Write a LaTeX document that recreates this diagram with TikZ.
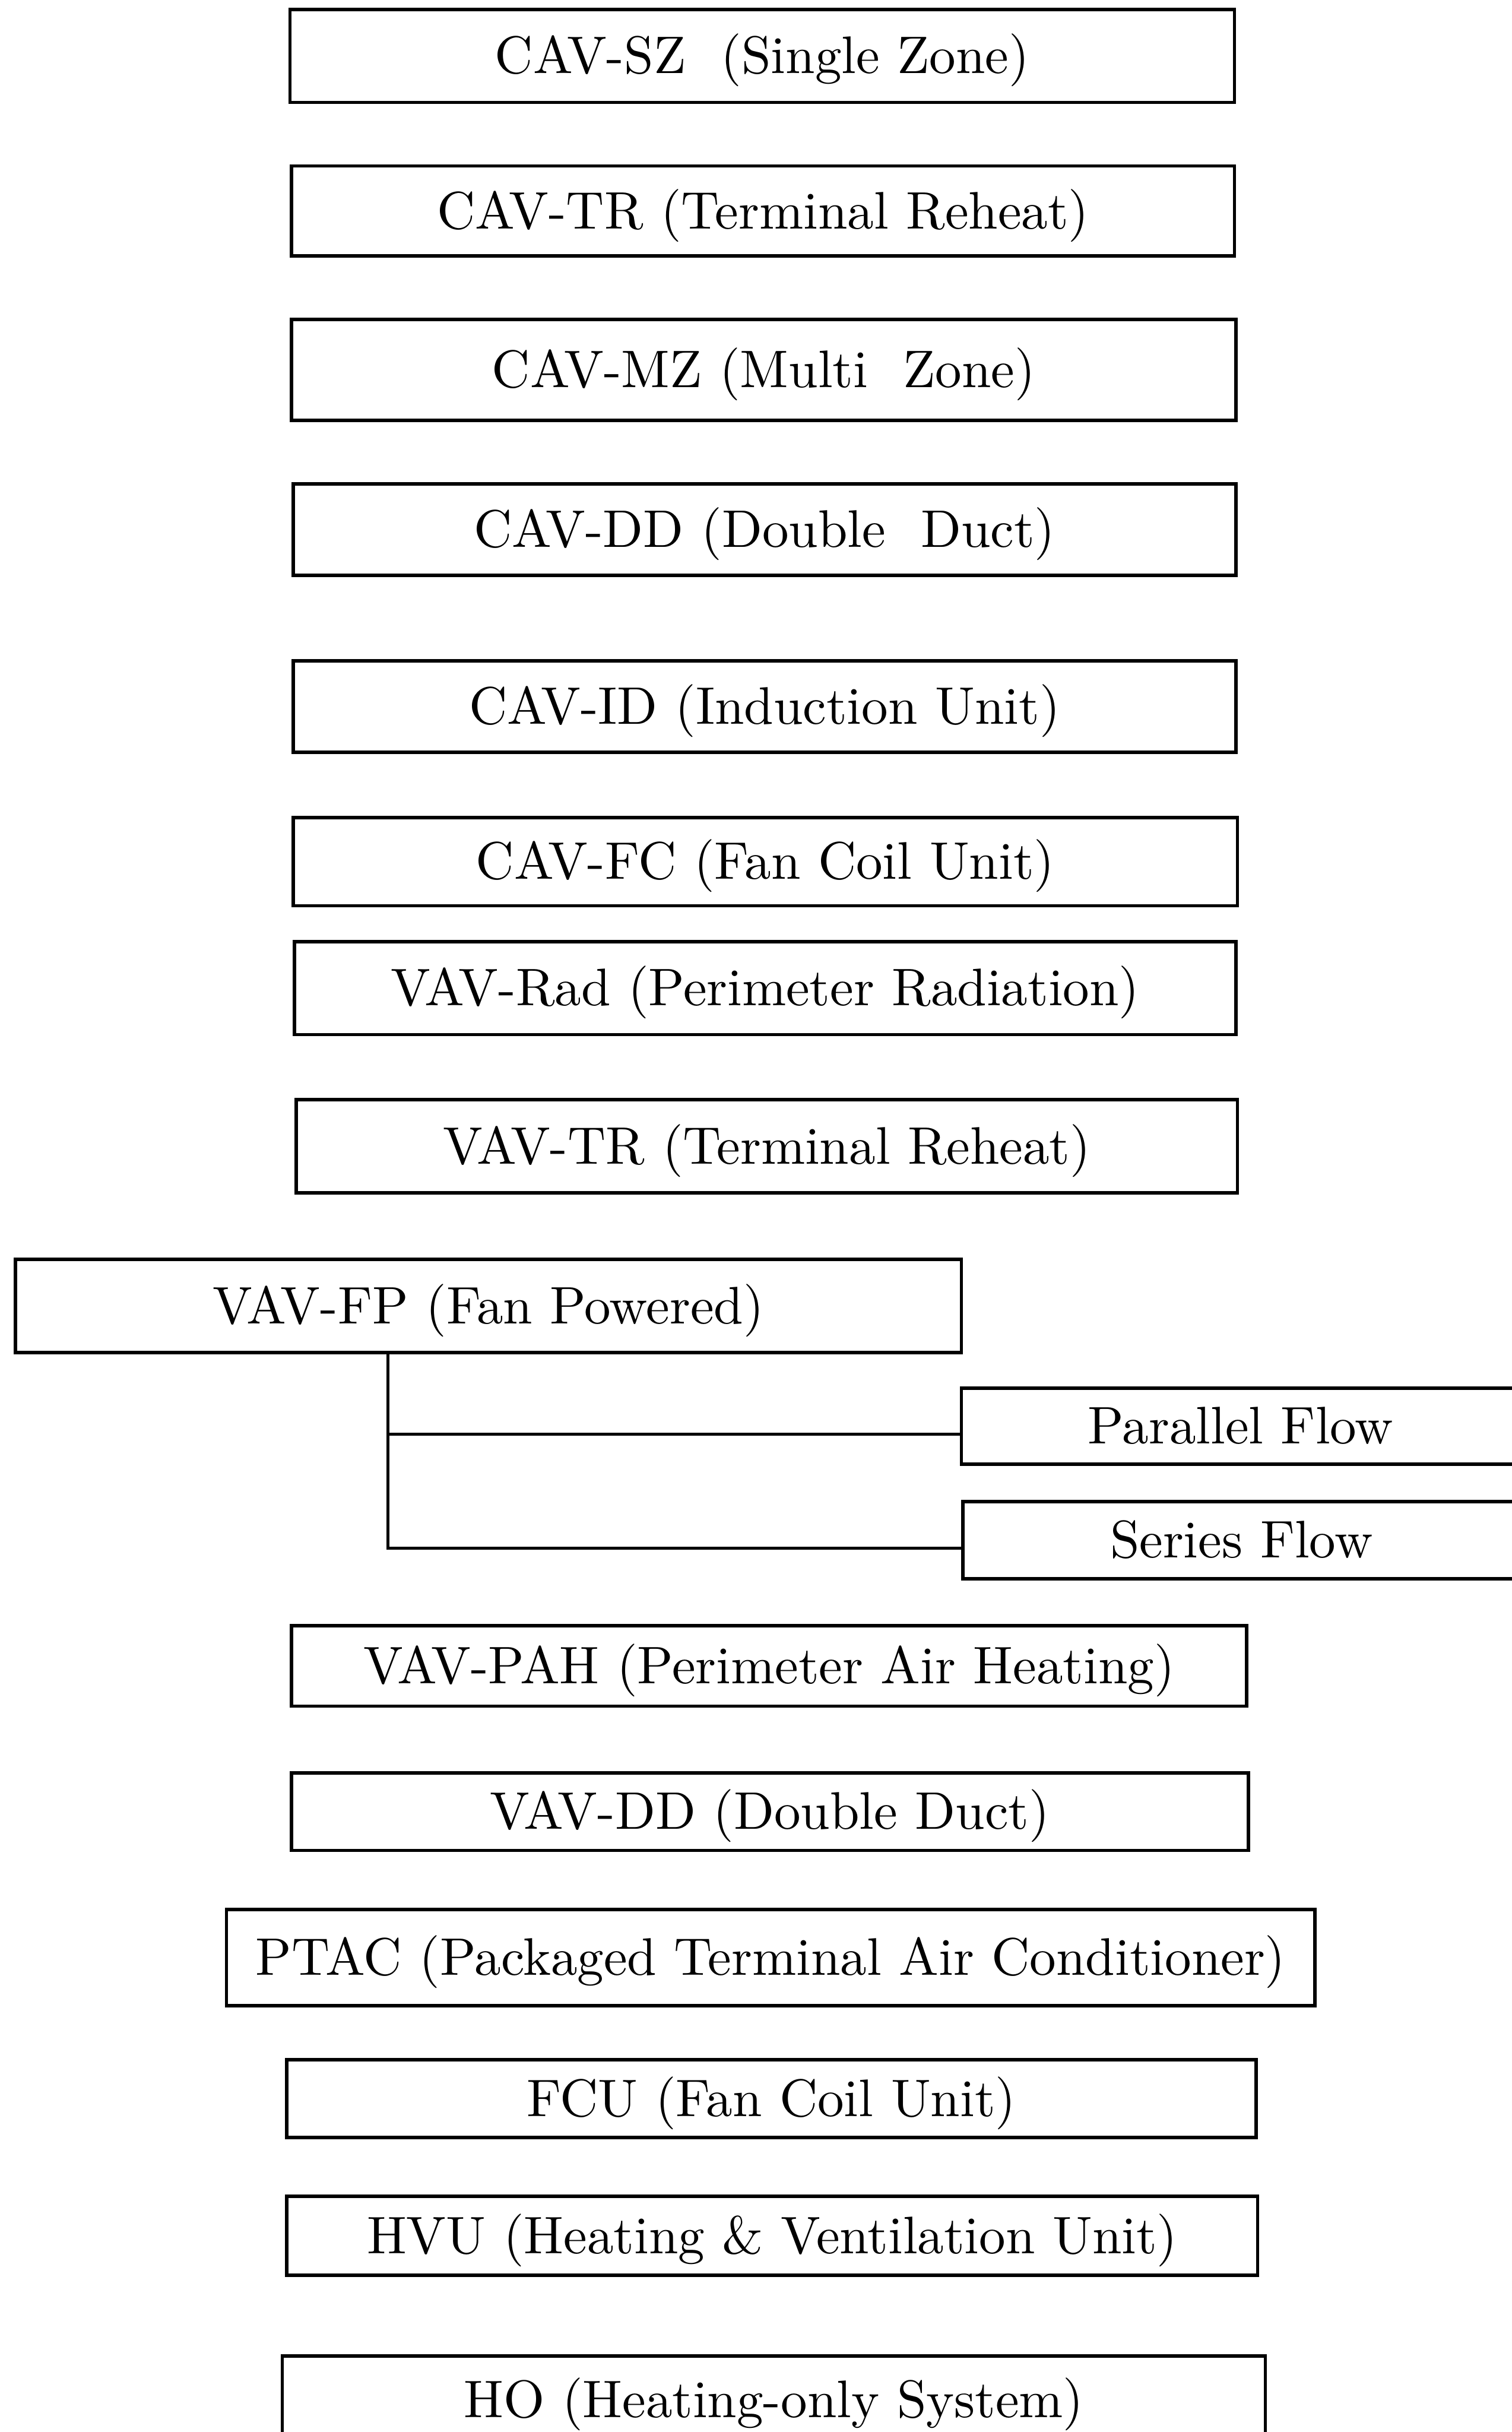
\documentclass[tikz,border=0pt]{standalone}
\begin{document}
\begin{tikzpicture}[x=0.02cm,y=-0.02cm,
	sysbox/.style={draw,line width=1.25pt,inner sep=0pt,text height=13pt,text depth=0pt},
	link/.style={line width=1.1pt}]
\useasboundingbox (0,0) rectangle (975,1568);
\foreach \id/\lx/\ty/\rx/\by/\txt in {
	cavsz/187/6/796/66/{CAV-SZ\ \ (Single Zone)},
	cavtr/188/107/796/165/{CAV-TR (Terminal Reheat)},
	cavmz/188/206/797/271/{CAV-MZ (Multi\ \ Zone)},
	cavdd/189/312/797/371/{CAV-DD (Double\ \ Duct)},
	cavid/189/426/797/485/{CAV-ID (Induction Unit)},
	cavfc/189/527/798/584/{CAV-FC (Fan Coil Unit)},
	vavrad/190/607/797/667/{VAV-Rad (Perimeter Radiation)},
	vavtr/191/709/798/769/{VAV-TR (Terminal Reheat)},
	fp/10/812/620/872/{VAV-FP (Fan Powered)},
	par/620/895/980/944/{Parallel Flow},
	ser/621/968/980/1018/{Series Flow},
	vavpah/188/1048/804/1100/{VAV-PAH (Perimeter Air Heating)},
	vavdd/188/1143/805/1193/{VAV-DD (Double Duct)},
	ptac/146/1231/848/1293/{PTAC (Packaged Terminal Air Conditioner)},
	fcu/185/1328/810/1378/{FCU (Fan Coil Unit)},
	hvu/185/1416/811/1467/{HVU (Heating \& Ventilation Unit)},
	ho/182/1519/816/1575/{HO (Heating-only System)}%
	}{
	\node[sysbox,minimum width={(\rx-\lx)*0.02cm},minimum height={(\by-\ty)*0.02cm}] (\id) at ({(\lx+\rx)/2},{(\ty+\by)/2}) {\scalebox{1.94}{\txt}};
	}
% branch of the fan powered unit
\coordinate (tap) at (250,872);
\draw[link] (tap) |- ([yshift=-0.1cm]par.west);
\draw[link] (tap) |- ([yshift=-0.1cm]ser.west);
\end{tikzpicture}
\end{document}
